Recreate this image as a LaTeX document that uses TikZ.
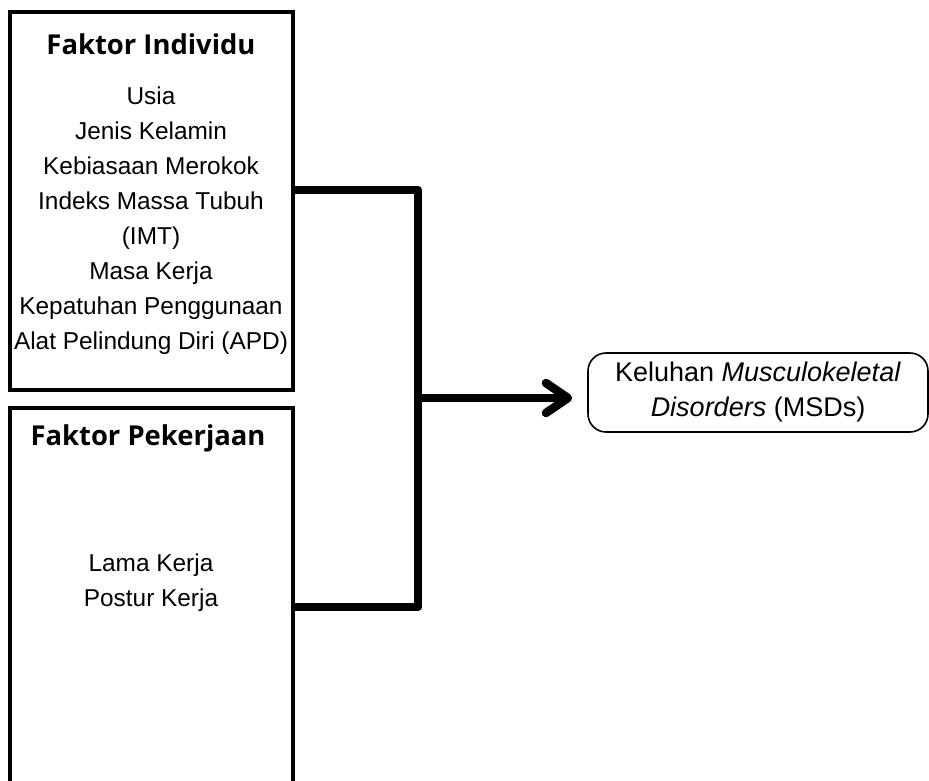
\documentclass[tikz,border=0pt]{standalone}
\usepackage{fontspec}
\setmainfont{Liberation Sans}
\newfontfamily\titlefont{Open Sans}
\usetikzlibrary{arrows.meta}
\tikzset{
  factorbox/.style={draw, line width=3.5pt, minimum width=283pt, inner sep=0pt},
  titletext/.style={font=\titlefont\bfseries\fontsize{27.4}{32}\selectfont, inner sep=0pt},
  listtext/.style={font=\fontsize{24.4}{35}\selectfont, align=center, inner sep=0pt},
  link/.style={line width=8.5pt, line join=round, line cap=round},
  outcome/.style={draw, line width=1.6pt, rounded corners=18pt, minimum width=340pt, minimum height=79pt, align=center, font=\fontsize{27}{35}\selectfont, inner sep=0pt}
}
\begin{document}
\begin{tikzpicture}[x=1pt,y=-1pt]
\clip (0,0) rectangle (929,780);
\fill[white] (0,0) rectangle (929,780);
\node[factorbox, minimum height=378pt] (ind) at (151.5,201) {};
\node[factorbox, minimum height=400pt] (pek) at (151.5,608) {};
\node[titletext] (indt) at (151,44) {Faktor Individu};
\node[listtext] (indl) at (151,221) {Usia\\Jenis Kelamin\\Kebiasaan Merokok\\Indeks Massa Tubuh\\(IMT)\\Masa Kerja\\Kepatuhan Penggunaan\\Alat Pelindung Diri (APD)};
\node[titletext] (pekt) at (148,438) {Faktor Pekerjaan};
\node[listtext] (pekl) at (151,583) {Lama Kerja\\Postur Kerja};
\node[outcome] (msd) at (758,392.5) {Keluhan \textit{Musculokeletal}\\\textit{Disorders} (MSDs)};
\coordinate (junc) at (418,398);
\draw[link, line cap=butt] ([yshift=11pt]ind.east) -| (junc) |- ([yshift=1pt]pek.east);
\draw[link, -{Straight Barb[length=22pt,width=30pt,round]}, shorten >=15pt] (junc) -- (msd.west |- junc);
\end{tikzpicture}
\end{document}
